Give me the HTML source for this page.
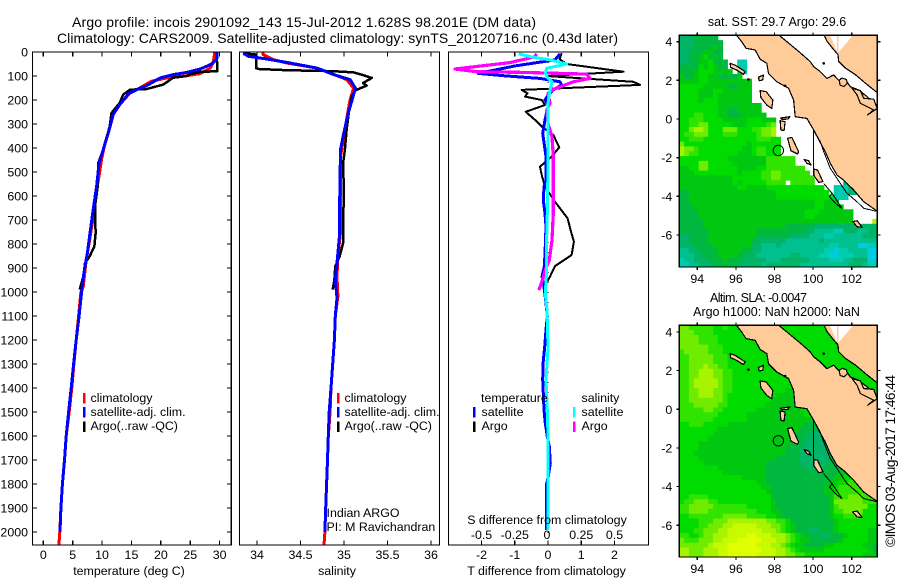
<!DOCTYPE html>
<html lang="en">
<head>
<meta charset="utf-8">
<title>Argo profile</title>
<style>
html,body{margin:0;padding:0;background:#fff;}
svg{display:block;font-family:"Liberation Sans",sans-serif;font-size:12.4px;fill:#000;}
.title{font-size:14px;}
.map-title{font-size:12.5px;}
</style>
</head>
<body>
<svg id="chart" xmlns="http://www.w3.org/2000/svg" width="900" height="580" viewBox="0 0 900 580">
  <defs>
    <clipPath id="clip-map1"><rect x="679.3" y="35.3" width="198" height="231.7"/></clipPath>
    <clipPath id="clip-map2"><rect x="679.3" y="325.3" width="198" height="231.7"/></clipPath>
  </defs>
  <rect x="0" y="0" width="900" height="580" fill="#fff"/>
  <text class="title" x="72" y="27" textLength="464">Argo profile: incois 2901092_143 15-Jul-2012 1.628S 98.201E (DM data)</text>
  <text class="title" x="57" y="43" textLength="561">Climatology: CARS2009. Satellite-adjusted climatology: synTS_20120716.nc (0.43d later)</text>

  <g id="temp-panel"></g>
  <g id="sal-panel"></g>
  <g id="diff-panel"></g>
  <g id="map1"></g>
  <g id="map2"></g>

  <text x="129" y="575" text-anchor="middle">temperature (deg C)</text>
  <text x="337" y="575" text-anchor="middle">salinity</text>
  <text x="546.5" y="575" text-anchor="middle">T difference from climatology</text>
  <text x="547" y="524" text-anchor="middle">S difference from climatology</text>

  <g>
    <rect x="83" y="393" width="2.5" height="10.5" fill="#ff0000"/>
    <rect x="83" y="407" width="2.5" height="10.5" fill="#0000ff"/>
    <rect x="83" y="421.5" width="2.5" height="10.5" fill="#000"/>
    <text x="90.5" y="402">climatology</text>
    <text x="90.5" y="416">satellite-adj. clim.</text>
    <text x="90.5" y="430">Argo(..raw -QC)</text>
  </g>
  <g>
    <rect x="337" y="393" width="2.5" height="10.5" fill="#ff0000"/>
    <rect x="337" y="407" width="2.5" height="10.5" fill="#0000ff"/>
    <rect x="337" y="421.5" width="2.5" height="10.5" fill="#000"/>
    <text x="344.5" y="402">climatology</text>
    <text x="344.5" y="416">satellite-adj. clim.</text>
    <text x="344.5" y="430">Argo(..raw -QC)</text>
    <text x="326.5" y="517">Indian ARGO</text>
    <text x="326.5" y="531">PI: M Ravichandran</text>
  </g>
  <g>
    <text x="481" y="402">temperature</text>
    <text x="581.5" y="402">salinity</text>
    <rect x="473" y="407" width="2.5" height="10.5" fill="#0000ff"/>
    <rect x="473" y="421.5" width="2.5" height="10.5" fill="#000"/>
    <rect x="573" y="407" width="2.5" height="10.5" fill="#00ffff"/>
    <rect x="573" y="421.5" width="2.5" height="10.5" fill="#ff00ff"/>
    <text x="481.5" y="416">satellite</text>
    <text x="481.5" y="430">Argo</text>
    <text x="581.5" y="416">satellite</text>
    <text x="581.5" y="430">Argo</text>
  </g>

  <text class="map-title" x="777" y="26" text-anchor="middle">sat. SST: 29.7  Argo: 29.6</text>
  <text class="map-title" x="710" y="302" textLength="97">Altim. SLA: -0.0047</text>
  <text class="map-title" x="776.5" y="316" text-anchor="middle">Argo h1000: NaN h2000: NaN</text>
  <text transform="translate(895,547) rotate(-90)" font-size="14" textLength="172">©IMOS 03-Aug-2017 17:46:44</text>
</svg>
<script>
// ---------- profile data ----------
const depthTicks = [0,100,200,300,400,500,600,700,800,900,1000,1100,1200,1300,1400,1500,1600,1700,1800,1900,2000];
const tempTicks = [0,5,10,15,20,25,30];
const salTicks = [34,34.5,35,35.5,36];
const dtTicks = [-2,-1,0,1,2];
const dsTicks = [-0.5,-0.25,0,0.25,0.5];
const dsTickLabels = ['-0.5','-0.25','0','0.25','0.5'];

const tClimDepth = [0,46,67,90,101,108,122,150,171,219,261,317,379,449,532,601,685,782,865,976,1000,1100,1200,1300,1400,1500,1600,1700,1800,1900,2000,2054];
const tClimValue = [29.2,28.9,28.4,26.7,23.8,21,18.4,16.4,14.75,13,11.9,11.3,10.5,9.9,9.4,8.8,8.5,7.9,7.3,6.8,6.4,6,5.6,5.2,4.85,4.4,3.9,3.6,3.25,3,2.8,2.65];
const tSatDepth = [0,32,53,71,85,94,108,140,157,174,226,261,337,407,462,560,671,754,837,921,1004,1100,1200,1300,1400,1500,1600,1700,1800,1900,2000];
const tSatValue = [29.6,29.5,28.4,26.7,24.4,22.1,19.9,17.6,15.9,14.5,12.8,11.9,11.06,10.2,9.5,9.07,8.4,7.94,7.5,6.9,6.5,6.1,5.6,5.15,4.75,4.3,3.9,3.6,3.25,3,2.85];
const tArgoDepth = [0,80,83,92,100,107,136,154,157,178,212,254,310,407,462,560,643,755,810,851,879,935,990];
const tArgoValue = [29.5,29.6,26.7,25,24.4,22.1,20.4,17.6,14.75,13.6,13,11.6,11.3,10.2,9.36,9.25,8.8,8.9,8.7,7.9,7.1,6.8,6.2];

const sClimDepth = [0,11,32,46,67,87,115,150,199,240,324,435,615,754,851,935,1018,1100,1200,1300,1400,1500,1600,1700,1800,1900,2000,2054];
const sClimValue = [34.07,34.07,34.19,34.34,34.69,34.84,35.03,35.11,35.07,35.05,35.01,34.96,34.96,34.96,34.93,34.92,34.93,34.9,34.89,34.87,34.85,34.84,34.82,34.81,34.8,34.79,34.78,34.77];
const sSatDepth = [5,18,29,46,67,94,115,150,178,254,351,407,615,754,879,949,1025,1100,1200,1300,1400,1500,1600,1700,1800,1900,2000];
const sSatValue = [33.84,33.9,34.11,34.38,34.69,34.88,35.07,35.13,35.11,35.05,34.99,34.96,34.95,34.95,34.92,34.9,34.92,34.9,34.89,34.87,34.85,34.83,34.82,34.81,34.8,34.79,34.78];
const sArgoDepth = [5,11,67,71,76,80,85,94,108,129,140,160,185,240,324,407,462,601,685,796,851,893,949,990];
const sArgoValue = [33.84,33.99,33.99,34.02,34.34,34.88,35.11,35.2,35.32,35.22,35.26,35.13,35.09,35.06,35.03,35.01,34.99,35,34.99,34.99,34.95,34.9,34.89,34.87];

const dtSatDepth = [8,33,58,75,89,100,110,124,137,158,179,200,221,283,339,436,533,561,617,672,728,839,894,936,978,1047,1103,1158,1228,1300,1366,1491,1547,1602,1644,1713,1769,1797,1991];
const dtSatValue = [0.36,0.21,-0.99,-1.59,-2.1,-1.24,-0.24,0.36,0.41,0.16,0.01,-0.09,0.01,-0.09,-0.16,-0.06,-0.06,-0.12,-0.14,-0.09,-0.06,-0.09,-0.11,-0.18,-0.12,-0.06,-0.02,-0.06,-0.1,-0.15,-0.16,-0.12,-0.08,-0.02,0.04,0.07,0.01,-0.04,-0.04];
const dtArgoDepth = [5,30,50,82,100,124,137,158,172,186,200,221,249,283,311,346,397,436,478,512,547,582,624,693,742,790,846,892,936,961];
const dtArgoValue = [0.41,0.35,0.56,2.27,-0.04,2.57,2.77,-0.79,-0.62,-0.69,-0.19,-0.09,-0.67,-0.39,-0.19,0.16,0.34,0.11,-0.24,-0.19,-0.12,0.01,0.21,0.59,0.68,0.78,0.71,0.21,0.06,-0.04];
const dsSatDepth = [8,22,33,50,68,89,110,124,158,214,297,436,533,561,672,770,908,1006,1061,1117,1235,1366,1491,1602,1769,1991];
const dsSatValue = [-0.22,-0.11,0.015,0.14,-0.01,-0.02,0,0.03,0.015,0,0,0,0,-0.005,-0.005,-0.01,-0.01,-0.02,-0.01,-0.005,0,-0.015,-0.005,0,0,0];
const dsArgoDepth = [8,20,44,71,82,85,92,110,124,156,172,214,242,297,353,436,533,672,783,867,908,964,992];
const dsArgoValue = [-0.085,-0.1,-0.286,-0.7,-0.54,-0.185,0.29,0.316,0.19,0.04,0,0.015,-0.01,0,0.03,0.04,0.04,0.04,0.03,0.01,-0.02,-0.05,-0.07];

// ---------- map data ----------
const lonTicks = [94,96,98,100,102];
const latTicks = [4,2,0,-2,-4,-6];
const argoLon = 98.201;
const argoLat = -1.628;
// colour level per 0.25-degree cell, west to east, north to south; "." = no data
const sstRows = [
"33344444","333444444","333444454","334445544","334456454",
"3344556444..11","4444656544..11","44456665555.11","5445665544445","555566555555555",
"666665555544555","666655566555555","666655565555555","666656665555555","66666666555555555",
"66666666554455555","666776665544455555","66777666655555666555","66778866666555666678","66899866688866677889",
"67788866677766667889","667776666666666677766","866666666666665666666","988766666666655677666","987766666666555677666",
"666666666655555555777777","666688666665555555777777","55668866666655556677777777","555666666666566667788777777","5555555555566666677887777777",
"5555555555565666667777.77777......33","555555555555665555666666666666..1113","4455555555555555555566666666666.11133","44555555555555555555666666666666111","445555555555555555555555555566555",
"4445555555555555555555555555665555","444455555555555555555555556665555555","444455555555555555555555556655555555","444445555555555555555555555555555555....99","444445555555555555555544444433333333333333",
"444444555555555544444444443322221133322333","334444555555555544444443333222112222223333","334444555555555433333322222223222222222222","333444455555555332223222222222211222200111","223344445555544332222222222222110112222000",
"222334445555443322222223322221100111222000","122333444544433333222333333222211122333000","112233344444333332333333322222222223332110"
];
const slaRows = [
"887777766766666666666666666666666666666666","888777766666666666666666666666666666666666","888877776666666666666666666666666666666666","888877776666666666666666666666666666666666",
"888888777666666666666666666666666666666666","788888777666666666666666666666666666666666","778888877766666666666666666666666666666666","778888877766666666666666666666666666666666",
"778889887766666666666666666666666666666666","778899988776666666666666666666666666666666","778899988776666666666666666666666666666666","778999998776666666666666666666666666666666",
"778999998776666666666666666666666666666666","778899988776666666666655666666666666666666","778899988766666666665555566666666666666666","778888888766666666655555566666666666666666",
"777888887766666666555555566666666666666666","777778877666666655555555566666666666666666","777777776666665555555555556666666666666666","777777766666665555555555555556666666666666",
"667776666655555555555555554445666666666666","666666665555555555555555544444456666666666","666666655555555555555555444334445666666666","666666555555555555555554443333445566666666",
"666655555555555555555554443333344556666666","666655555555555555555544433333344555666666","666555555555555555555544433333344445566666","666655555555555555554444433333344444556666",
"666665555555555555444444433333344444555666","666666665555555555444444443333444445566666","666666666555555555444444444444444556666666","666666666666655555444444444444445566677777",
"666666666666666655444444444444455667777777","666666666666666665544444444444556777777777","666666666666666666544444444444556777777777","667777666666666666644444444444457778887777",
"677888776666666666654444444444458888887776","778888877777776666654444444444457888888666","778888777777777766655444444444457788886666","667777777888887777665444444444456677776666",
"666677788899999999887764444444445666666666","66667788899aaaaa99988765444444445666666665","6667788899aaaaaaa9998765444334445666666555","7766788999aaaabbaaa999876544433444566665554",
"877788899aaabbbbbaaa99876554444445666665544","8888889aaabbbbbbaaa99876554444556666665544","99888999aabbbbbbbaaa99876555556666666665444","99888999aabbbbbbaaaa9988776666666666665555"
];
const levelColours = ['#00cce0','#00ccb0','#00c090','#00b468','#00b840','#00c810','#00dc00','#30e400','#70ec00','#a8f400','#c8fa00','#e0ff00'];
const sumatraCoast = [[95.9,4.5],[96.3,4],[96.53,3.66],[97,3.57],[97.26,3.09],[97.6,2.88],[97.69,2.36],[98.12,1.93],[98.73,1.59],[98.99,0.98],[99.07,0.12],[99.68,0.03],[100.03,-0.57],[100.34,-1.17],[100.63,-1.69],[100.89,-2.29],[101.24,-2.9],[101.58,-3.16],[102.1,-3.67],[102.62,-4.28],[103.35,-4.79],[103.6,-4.9],[103.6,0.55],[103.35,0.6],[102.8,1.16],[102.36,1.5],[101.93,1.67],[101.7,2],[101.32,2.02],[101.06,2.28],[100.72,2.1],[100.37,2.45],[100.03,2.71],[99.85,2.97],[99.33,3.43],[98.64,4],[98.24,4.33],[98.2,4.5]];
const malayCoast = [[100.5,4.5],[100.72,4.02],[101.06,3.59],[101.29,3.33],[101.32,2.98],[101.67,2.64],[102.19,2.29],[102.8,1.78],[103.35,1.34],[103.6,1.2],[103.6,4.5]];
const wedgeEast = [[101.32,4.5],[102.2,4.5],[101.32,3.45]];
const wedgeWest = [[100.8,4.5],[101.24,4.5],[101.24,3.5]];
const islands = [
[[95.7,2.88],[95.96,2.79],[96.48,2.45],[96.39,2.31],[96.04,2.53],[95.73,2.67]],
[[97.17,2.16],[97.43,2.28],[97.39,2.02],[97.2,1.98]],
[[97.26,1.47],[97.57,1.41],[97.91,0.98],[97.86,0.55],[97.6,0.72],[97.29,1.12]],
[[98.29,-0.09],[98.55,-0.14],[98.5,-0.6],[98.33,-0.57]],
[[98.3,0.05],[98.8,0.12],[98.7,0],[98.4,-0.02]],
[[98.68,-1],[98.9,-0.95],[99.25,-1.69],[99.19,-1.81],[98.85,-1.64]],
[[99.54,-2.09],[99.77,-2.16],[99.89,-2.38],[99.68,-2.29]],
[[100.03,-2.59],[100.23,-2.64],[100.51,-3.24],[100.29,-3.28],[100.03,-2.9]],
[[102.05,-5.31],[102.28,-5.26],[102.54,-5.6],[102.28,-5.57]],
[[101.35,2],[101.5,2.12],[101.72,2.05],[101.78,1.85],[101.6,1.68],[101.4,1.75]],
[[102.02,1.59],[102.45,1.47],[102.62,1.07],[103.14,1.03],[103.32,0.55],[102.83,0.21],[103.14,0.47],[102.45,0.81],[102.28,1.24]]
];
const bankLine = [[100.03,-0.57],[100.37,-1.17],[100.55,-1.69],[100.89,-2.55],[101.24,-3.07],[101.75,-3.84],[102.27,-4.28],[102.62,-4.62],[103.35,-4.79]];
const shelfLoop = [[100.55,-3.33],[100.98,-3.84],[101.5,-4.62],[101.2,-4.4],[100.85,-4.02],[100.98,-3.84]];
const meridianLine = [[100.03,-0.57],[100.03,-2.6]];
const reefDots = [[96.65,2.05],[98.55,1.72],[100.55,2.88]];

// ---------- helpers & scales ----------
const SVGNS = 'http://www.w3.org/2000/svg';
function svgEl(tag, parent) {
  const e = document.createElementNS(SVGNS, tag);
  parent.appendChild(e);
  return e;
}
function setAll(e, props) {
  for (const k in props) e.setAttribute(k, props[k]);
}
const PLOT_TOP = 52, PLOT_BOTTOM = 545;
function depthY(d) { return PLOT_TOP + 0.24 * d; }
function tempX(t) { return 43.3 + 5.877 * t; }
function salX(s) { return 257 + 87 * (s - 34); }
function dtX(v) { return 548 + 33.25 * v; }
function dsX(v) { return 548 + 133 * v; }

function drawFrame(parent, x0, x1) {
  const frame = svgEl('rect', parent);
  
  
  setAll(frame, {x:x0, y:PLOT_TOP, width:x1-x0, height:PLOT_BOTTOM-PLOT_TOP, fill:'none', stroke:'#000', 'stroke-width':1.3, 'shape-rendering':'crispEdges'});
}
function tickSegment(parent, x1, y1, x2, y2) {
  const t = svgEl('line', parent);
  
  
  setAll(t, {x1:x1, y1:y1, x2:x2, y2:y2, stroke:'#000', 'stroke-width':1.2, 'shape-rendering':'crispEdges'});
}
function label(parent, x, y, text, anchor) {
  const t = svgEl('text', parent);
  
  
  setAll(t, {x:x, y:y, 'text-anchor':anchor || 'middle'});
  t.textContent = text;
}
function series(parent, name, xs, ys, xScale, colour, width) {
  const p = svgEl('polyline', parent);
  
  
  const pts = xs.map((v, i) => xScale(v).toFixed(1) + ',' + depthY(ys[i]).toFixed(1)).join(' ');
  setAll(p, {points:pts, fill:'none', stroke:colour, 'stroke-width':width, 'stroke-linejoin':'round', 'shape-rendering':'crispEdges'});
}

// ---------- temperature panel ----------
const tempPanel = document.getElementById('temp-panel');
series(tempPanel, 'temperature-climatology-line', tClimValue, tClimDepth, tempX, '#ff0000', 3);
series(tempPanel, 'temperature-argo-line', tArgoValue, tArgoDepth, tempX, '#000', 2.5);
series(tempPanel, 'temperature-satellite-line', tSatValue, tSatDepth, tempX, '#0000ff', 3);
drawFrame(tempPanel, 32.5, 231.3);
depthTicks.forEach(d => {
  tickSegment(tempPanel, 32.5, depthY(d), 37, depthY(d));
  tickSegment(tempPanel, 226.8, depthY(d), 231.3, depthY(d));
  label(tempPanel, 28, depthY(d) + 4.5, String(d), 'end');
});
tempTicks.forEach(t => {
  tickSegment(tempPanel, tempX(t), PLOT_TOP, tempX(t), PLOT_TOP + 4.5);
  tickSegment(tempPanel, tempX(t), PLOT_BOTTOM - 4.5, tempX(t), PLOT_BOTTOM);
  label(tempPanel, tempX(t), 559, String(t));
});

// ---------- salinity panel ----------
const salPanel = document.getElementById('sal-panel');
series(salPanel, 'salinity-climatology-line', sClimValue, sClimDepth, salX, '#ff0000', 3);
series(salPanel, 'salinity-argo-line', sArgoValue, sArgoDepth, salX, '#000', 2.5);
series(salPanel, 'salinity-satellite-line', sSatValue, sSatDepth, salX, '#0000ff', 3);
drawFrame(salPanel, 239.5, 439.5);
salTicks.forEach(s => {
  tickSegment(salPanel, salX(s), PLOT_TOP, salX(s), PLOT_TOP + 4.5);
  tickSegment(salPanel, salX(s), PLOT_BOTTOM - 4.5, salX(s), PLOT_BOTTOM);
  label(salPanel, salX(s), 559, String(s));
});

// ---------- difference panel ----------
const diffPanel = document.getElementById('diff-panel');
const zeroDots = svgEl('line', diffPanel);


setAll(zeroDots, {x1:dtX(0), y1:PLOT_TOP, x2:dtX(0), y2:PLOT_BOTTOM, stroke:'#000', 'stroke-width':1, 'stroke-dasharray':'1 9', 'shape-rendering':'crispEdges'});
series(diffPanel, 'temperature-difference-argo-line', dtArgoValue, dtArgoDepth, dtX, '#000', 2);
series(diffPanel, 'temperature-difference-satellite-line', dtSatValue, dtSatDepth, dtX, '#0000ff', 3);
series(diffPanel, 'salinity-difference-argo-line', dsArgoValue, dsArgoDepth, dsX, '#ff00ff', 3.2);
series(diffPanel, 'salinity-difference-satellite-line', dsSatValue, dsSatDepth, dsX, '#00ffff', 3);
drawFrame(diffPanel, 448.5, 648.5);
dtTicks.forEach(v => {
  tickSegment(diffPanel, dtX(v), PLOT_TOP, dtX(v), PLOT_TOP + 4.5);
  tickSegment(diffPanel, dtX(v), PLOT_BOTTOM - 4.5, dtX(v), PLOT_BOTTOM);
  label(diffPanel, dtX(v), 559, String(v));
});
dsTicks.forEach((v, i) => {
  label(diffPanel, dsX(v) - (i === 2 ? 1 : 0), 539, dsTickLabels[i]);
});

// ---------- maps ----------
const MAP_LEFT = 679.3, MAP_RIGHT = 877.3;
function lonX(lon) { return 697.3 + 19.3 * (lon - 94); }
function drawMap(group, clipId, rows, top, bottom, latZero, fillMissing) {
  const latY = lat => latZero - 19.33 * lat;
  const toPts = arr => arr.map(p => lonX(p[0]).toFixed(1) + ',' + latY(p[1]).toFixed(1)).join(' ');
  const inner = svgEl('g', group);
  inner.setAttribute('clip-path', 'url(#' + clipId + ')');
  
  
  const lat0 = (latZero - top) / 19.33;
  const lon0 = 94 - (697.3 - MAP_LEFT) / 19.3;
  rows.forEach((row, r) => {
    for (let c = 0; c < 42; c++) {
      let ch = c < row.length ? row[c] : (fillMissing ? row[row.length - 1] : '.');
      if (ch === '.') continue;
      const cell = svgEl('rect', inner);
      
      
      const xa = lonX(lon0 + c * 0.25), xb = lonX(lon0 + (c + 1) * 0.25);
      const ya = latY(lat0 - r * 0.25), yb = latY(lat0 - (r + 1) * 0.25);
      setAll(cell, {x:xa.toFixed(1), y:ya.toFixed(1), width:(xb - xa + 0.4).toFixed(1), height:(yb - ya + 0.4).toFixed(1), fill:levelColours[parseInt(ch, 12)]});
    }
  });
  const land = (arr, name) => {
    const p = svgEl('polygon', inner);
    
    
    setAll(p, {points:toPts(arr), fill:'#ffcc99', stroke:'#000', 'stroke-width':1.2, 'stroke-linejoin':'round', 'shape-rendering':'crispEdges'});
  };
  land(malayCoast, 'malay-peninsula-land');
  land(sumatraCoast, 'sumatra-land');
  islands.forEach(isl => land(isl, 'island'));
  [wedgeEast, wedgeWest].forEach(w => {
    const p = svgEl('polygon', inner);
    
    
    setAll(p, {points:toPts(w), fill:'#fff', 'shape-rendering':'crispEdges'});
  });
  [bankLine, shelfLoop, meridianLine].forEach(l => {
    const p = svgEl('polyline', inner);
    
    
    setAll(p, {points:toPts(l), fill:'none', stroke:'#000', 'stroke-width':1, 'shape-rendering':'crispEdges'});
  });
  reefDots.forEach(d => {
    const p = svgEl('circle', inner);
    
    
    setAll(p, {cx:lonX(d[0]), cy:latY(d[1]), r:1.3, fill:'#000'});
  });
  const marker = svgEl('circle', inner);
  
  
  setAll(marker, {cx:lonX(argoLon), cy:latY(argoLat), r:5.2, fill:'none', stroke:'#000', 'stroke-width':1});

  const frame = svgEl('rect', group);
  
  
  setAll(frame, {x:MAP_LEFT, y:top, width:MAP_RIGHT - MAP_LEFT, height:bottom - top, fill:'none', stroke:'#000', 'stroke-width':1.3, 'shape-rendering':'crispEdges'});
  lonTicks.forEach(v => {
    tickSegment(group, lonX(v), top - 3, lonX(v), top);
    tickSegment(group, lonX(v), bottom, lonX(v), bottom + 3);
    label(group, lonX(v), bottom + 16, String(v));
  });
  latTicks.forEach(v => {
    tickSegment(group, MAP_LEFT - 3, latY(v), MAP_LEFT, latY(v));
    tickSegment(group, MAP_RIGHT, latY(v), MAP_RIGHT + 3, latY(v));
    label(group, MAP_LEFT - 7, latY(v) + 4.5, String(v), 'end');
  });
}
drawMap(document.getElementById('map1'), 'clip-map1', sstRows, 35.3, 267, 119, false);
drawMap(document.getElementById('map2'), 'clip-map2', slaRows, 325.3, 557, 409.3, true);
</script>
</body>
</html>
